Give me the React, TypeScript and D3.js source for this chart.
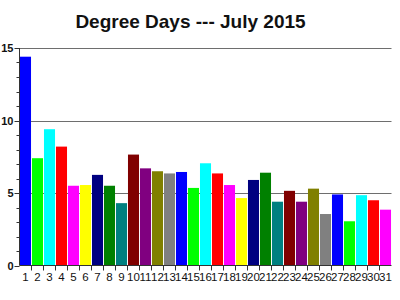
import React from "react";
import * as d3 from "d3";

const days = Array.from({ length: 31 }, (_, i) => String(i + 1));
const values = [14.4, 7.4, 9.4, 8.2, 5.5, 5.55, 6.25, 5.5, 4.3, 7.65, 6.7, 6.5, 6.35, 6.45, 5.35, 7.05, 6.35, 5.55, 4.65, 5.9, 6.4, 4.4, 5.15, 4.4, 5.3, 3.55, 4.9, 3.05, 4.85, 4.5, 3.85];
const palette = ["#0000FF", "#00FF00", "#00FFFF", "#FF0000", "#FF00FF", "#FFFF00", "#000080", "#008000", "#008080", "#800000", "#800080", "#808000", "#808080"];
const majorTicks = [0, 5, 10, 15];
const minorTicks = d3.range(0, 16);
const title = "Degree Days --- July 2015";

export default function App() {
  const left = 19.5, right = 391.5, top = 48, bottom = 265.5;
  const x = d3.scaleBand<string>().domain(days).range([left, right]).paddingInner(0.08).paddingOuter(0.04);
  const y = d3.scaleLinear().domain([0, 15]).range([bottom, top]);
  const step = x.step();
  const font = "Arial, 'Liberation Sans', sans-serif";
  return (
    <svg width={400} height={300} style={{ position: "absolute", left: 0, top: 0, background: "#fff" }}>
      <rect width={400} height={300} fill="#fff" />
      <text x={190.5} y={27.5} textAnchor="middle" fontFamily={font} fontWeight="bold" fontSize={19} fill="#111">{title}</text>
      {majorTicks.filter(t => t > 0).map(t => (
        <line key={"g" + t} x1={left} x2={right} y1={Math.round(y(t)) + 0.5} y2={Math.round(y(t)) + 0.5} stroke="#6e6e6e" strokeWidth={1} />
      ))}
      {days.map((d, i) => (
        <rect key={d} x={x(d)!} y={y(values[i])} width={x.bandwidth()} height={y(0) - y(values[i])} fill={palette[i % palette.length]} />
      ))}
      <line x1={left} x2={left} y1={top} y2={bottom} stroke="#333" strokeWidth={1} />
      <line x1={left} x2={right} y1={bottom} y2={bottom} stroke="#333" strokeWidth={1} />
      {minorTicks.map(t => (
        <line key={"m" + t} x1={left - (t % 5 === 0 ? 5 : 3)} x2={left} y1={Math.round(y(t)) + 0.5} y2={Math.round(y(t)) + 0.5} stroke="#333" strokeWidth={1} />
      ))}
      {majorTicks.map(t => (
        <text key={"l" + t} x={13.5} y={y(t) + 4} textAnchor="end" fontFamily={font} fontWeight="bold" fontSize={11} fill="#111">{t}</text>
      ))}
      {d3.range(1, 31).map(i => (
        <line key={"xt" + i} x1={left + i * step} x2={left + i * step} y1={bottom} y2={bottom + 5} stroke="#333" strokeWidth={1} />
      ))}
      {days.map(d => (
        <text key={"xl" + d} x={x(d)! + x.bandwidth() / 2} y={281} textAnchor="middle" fontFamily={font} fontSize={11.5} fill="#111">{d}</text>
      ))}
    </svg>
  );
}
